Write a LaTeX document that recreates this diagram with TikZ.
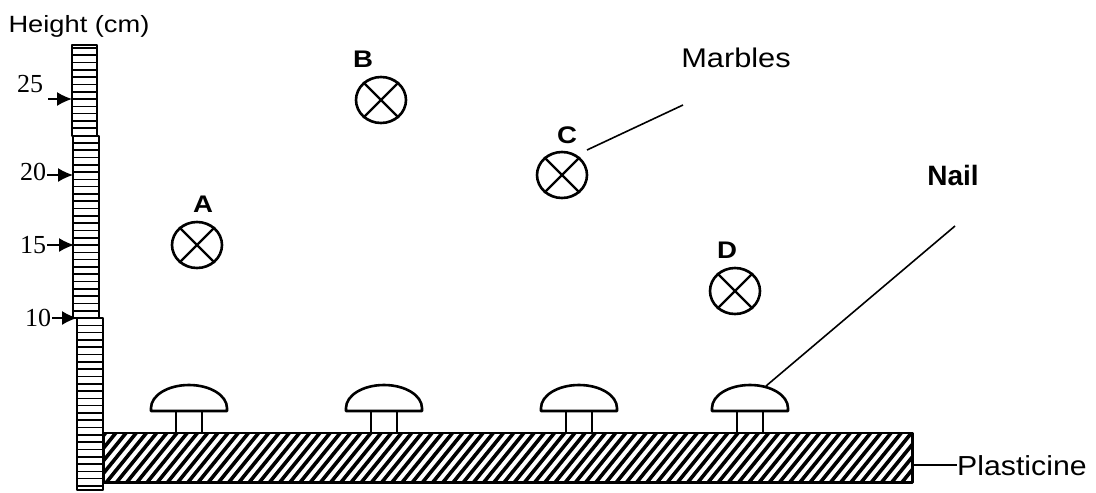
\documentclass[tikz,border=0pt]{standalone}
\usepackage{fontspec}
\setmainfont{Liberation Serif}
\newfontfamily\lsans{Liberation Sans}
\usetikzlibrary{shapes.geometric,arrows.meta}
\begin{document}
\begin{tikzpicture}[x=1pt,y=-1pt,
  line join=round,
  marble/.style={ellipse,draw,line width=2.6pt,inner sep=0pt,minimum width=50pt,minimum height=46pt},
  mlabel/.style={anchor=base,inner sep=0pt,font=\lsans\bfseries\fontsize{24}{26}\selectfont},
  sans/.style={anchor=base,inner sep=0pt,font=\lsans\fontsize{27}{30}\selectfont},
  num/.style={inner sep=0pt,font=\fontsize{26}{28}\selectfont},
  tick/.style={line width=1.5pt,-{Latex[length=15pt,width=14pt]}},
  rulerbox/.style={draw,line width=2.4pt},
  division/.style={line width=1.6pt},
  outline/.style={line width=2.6pt},
  hatchline/.style={line width=3.6pt},
  leader/.style={line width=1.6pt}]
\useasboundingbox (0,0) rectangle (1096,493);

% title
\node[anchor=base,inner sep=0pt,font=\lsans\fontsize{23.5}{26}\selectfont] (title) at (79,32) {\scalebox{1.16}[1]{Height (cm)}};

% ruler divisions
\foreach \k in {-7,...,53}{
  \pgfmathsetmacro{\yy}{99+\k*7.3}
  \ifdim\yy pt<136pt
    \draw[division] (72,\yy) -- (97,\yy);
  \else\ifdim\yy pt<318pt
    \draw[division] (73,\yy) -- (99,\yy);
  \else
    \draw[division] (77,\yy) -- (103,\yy);
  \fi\fi
}
% ruler segments
\node[rulerbox,inner sep=0pt,minimum width=25pt,minimum height=91pt] (seg1) at (84.5,90.5) {};
\node[rulerbox,inner sep=0pt,minimum width=26pt,minimum height=182pt] (seg2) at (86,227) {};
\node[rulerbox,inner sep=0pt,minimum width=26pt,minimum height=172pt] (seg3) at (90,404) {};

% tick labels and arrows
\node[num] (n25) at (30,84) {25};
\node[num] (n20) at (33,172) {20};
\node[num] (n15) at (33,245) {15};
\node[num] (n10) at (38,318) {10};
\coordinate (t25) at (72,99);
\coordinate (t20) at (73,175);
\coordinate (t15) at (74,245);
\coordinate (t10) at (77,318);
\draw[tick] (48,99) -- (t25);
\draw[tick] (n20.east |- t20) ++(1,0) -- (t20);
\draw[tick] (n15.east |- t15) ++(1,0) -- (t15);
\draw[tick] (n10.east |- t10) ++(1,0) -- (t10);

% plasticine
\node[inner sep=0pt,minimum width=808pt,minimum height=49pt] (plast) at (508,457.5) {};
\begin{scope}
  \clip (plast.north west) rectangle (plast.south east);
  \foreach \x in {54,64.2,...,922}{
    \draw[hatchline] (\x,484) -- (\x+43,431);
  }
\end{scope}
\draw[outline] (plast.north west) rectangle (plast.south east);

% nails
\foreach \cx/\nm in {189/n1,384/n2,579/n3,750/n4}{
  \draw[outline] (\cx-38,411) -- (\cx-38,408)
     arc[start angle=180,end angle=360,x radius=38,y radius=23] -- (\cx+38,411) -- cycle;
  \draw[outline] (\cx-13,411) -- (\cx-13,433);
  \draw[outline] (\cx+13,411) -- (\cx+13,433);
  \coordinate (\nm) at (\cx,385);
}

% marbles
\foreach \nm/\mx/\my in {A/197/245,B/381/100,C/562/175,D/735/291}{
  \node[marble] (\nm) at (\mx,\my) {};
  \draw[line width=2.2pt] (\nm.45) -- (\nm.225);
  \draw[line width=2.2pt] (\nm.135) -- (\nm.315);
}
\node[mlabel] (lA) at (203,212) {\scalebox{1.15}[1]{A}};
\node[mlabel] (lB) at (363,67) {\scalebox{1.15}[1]{B}};
\node[mlabel] (lC) at (567,143) {\scalebox{1.15}[1]{C}};
\node[mlabel] (lD) at (727,258) {\scalebox{1.15}[1]{D}};

% labels
\node[sans] (marbles) at (736,67) {\scalebox{1.14}[1]{Marbles}};
\node[anchor=base,inner sep=0pt,font=\lsans\bfseries\fontsize{28}{30}\selectfont] (nail) at (953,185) {Nail};
\node[sans,anchor=base west,font=\lsans\fontsize{27.5}{30}\selectfont] (plasticine) at (957,475) {\scalebox{1.1}[1]{Plasticine}};

\coordinate (mtip) at (683,105);
\coordinate (cend) at (587,150);
\draw[leader] (mtip) -- (cend);
\coordinate (ntip) at (955,226);
\coordinate (nend) at (766,386);
\draw[leader] (ntip) -- (nend);
\draw[leader] (plast.east |- 0,465) -- (plasticine.west |- 0,465);
\end{tikzpicture}
\end{document}
